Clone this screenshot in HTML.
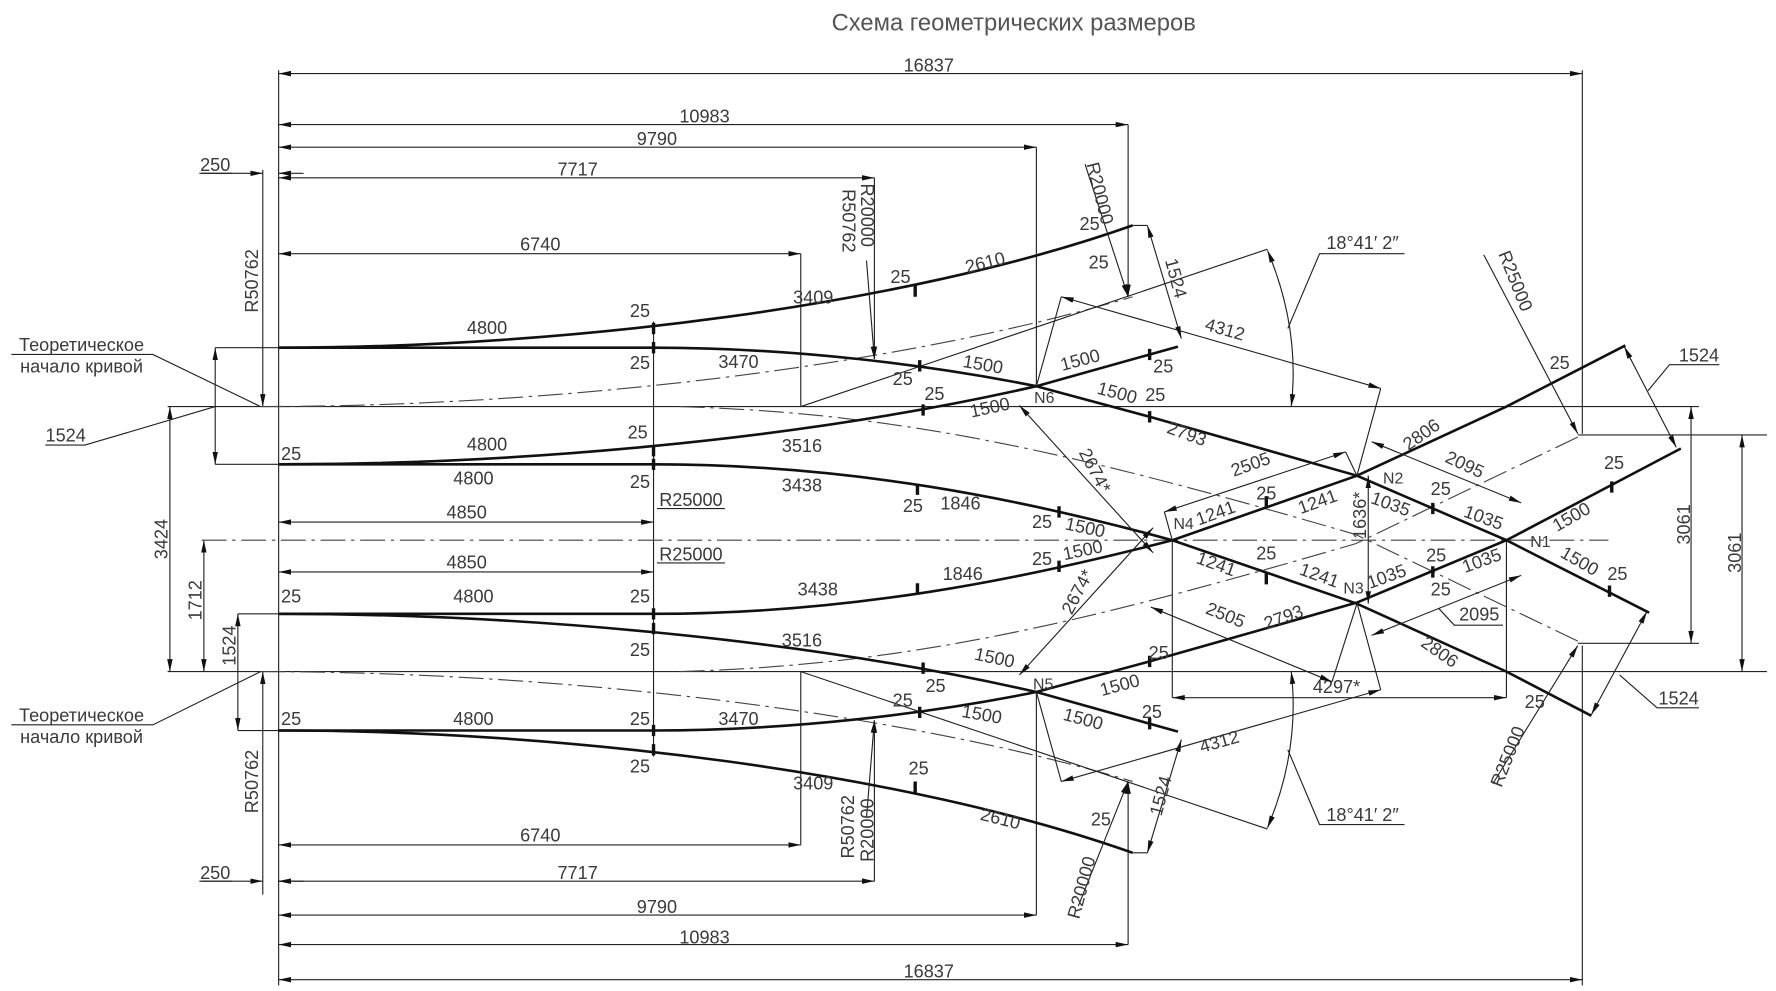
<!DOCTYPE html>
<html><head><meta charset="utf-8"><style>
html,body{margin:0;padding:0;background:#fff;width:1776px;height:991px;overflow:hidden}
svg{display:block}
text{font-family:"Liberation Sans Narrow","Liberation Sans",sans-serif;font-size:16px;fill:#3a3a3a;text-anchor:middle}
.t{stroke:#222;stroke-width:1;fill:none}
.k{stroke:#111;stroke-width:2.3;fill:none}
.dd{stroke:#444;stroke-width:1;fill:none;stroke-dasharray:22 5 3 5}
.d{stroke:#222;stroke-width:1;fill:none;marker-start:url(#a);marker-end:url(#a)}
.e{stroke:#222;stroke-width:1;fill:none;marker-end:url(#a)}
.tk{stroke:#111;stroke-width:3}
</style></head><body>
<svg width="1776" height="991" viewBox="0 0 1568 875" preserveAspectRatio="none" xmlns="http://www.w3.org/2000/svg">
<defs><marker id="a" markerUnits="userSpaceOnUse" markerWidth="12" markerHeight="6" refX="11" refY="3" orient="auto-start-reverse"><path d="M0,0.6 L11,3 L0,5.4 Z" fill="#111"/></marker></defs>

<text x="895" y="27" style="font-size:21px;fill:#555">Схема геометрических размеров</text>

<!-- extension lines -->
<path class="t" d="M246,62V870 M707,224V359 M707,593V746 M915,130V341 M915,612V808 M1397,62V383 M1397,570V870 M577,284V668 M1035,477V616 M1330,477V616
M148,359H1500 M148,593H1560 M1393,384H1560 M1393,568H1500 M190,307H246 M190,410H246 M210,542H246 M210,645H246"/>
<path class="e" d="M772,157V317"/><path class="e" d="M772,778V636"/><path class="e" d="M996,110V262"/><path class="e" d="M996,834V690"/>
<path class="dd" d="M178,477H1420"/>

<!-- horizontal dims -->
<path class="d" d="M246,65H1397"/><path class="d" d="M246,110H996"/><path class="d" d="M246,130H915"/><path class="d" d="M246,157H772"/>
<path class="d" d="M246,224H707"/><path class="d" d="M246,461H577"/><path class="d" d="M246,505H577"/>
<path class="d" d="M246,746H707"/><path class="d" d="M246,778H772"/><path class="d" d="M246,808H915"/><path class="d" d="M246,834H996"/><path class="d" d="M246,865H1397"/>
<text x="820" y="63">16837</text><text x="622" y="108">10983</text><text x="580" y="128">9790</text>
<text x="510" y="155">7717</text><text x="477" y="221">6740</text><text x="412" y="458">4850</text><text x="412" y="502">4850</text>
<text x="477" y="743">6740</text><text x="510" y="776">7717</text><text x="580" y="806">9790</text><text x="622" y="833">10983</text><text x="820" y="863">16837</text>

<!-- vertical dims -->
<path class="d" d="M150,359V593"/><path class="d" d="M180,477V593"/><path class="d" d="M190,307V410"/><path class="d" d="M210,542V645"/>
<path class="d" d="M1493,359V568"/><path class="d" d="M1538,384V593"/><path class="d" d="M1208,420V533"/><path class="d" d="M1035,616H1330"/>
<text transform="translate(148,476) rotate(-90)">3424</text>
<text transform="translate(178,530) rotate(-90)">1712</text>
<text transform="translate(208,570) rotate(-90)">1524</text>
<text transform="translate(1492,463) rotate(-90)">3061</text>
<text transform="translate(1537,488) rotate(-90)">3061</text>
<text transform="translate(1206,455) rotate(-90)">1636*</text>
<text x="1180" y="612">4297*</text>

<!-- left items -->
<path class="e" d="M232,150V359"/><path class="e" d="M232,790V593"/><path class="e" d="M178,153H232"/><path class="e" d="M268,153H246"/><path class="e" d="M178,778H232"/><path class="e" d="M268,778H246"/>
<text transform="translate(228,248) rotate(-90)">R50762</text>
<text transform="translate(228,690) rotate(-90)">R50762</text>
<text x="190" y="151">250</text><text x="190" y="776">250</text>
<path class="t" d="M176,153H205 M176,778H205 M40,393H75L190,359 M10,313H135L230,359 M10,640H135L230,593"/>
<text x="58" y="390">1524</text>
<text x="72" y="310">Теоретическое</text><text x="72" y="329">начало кривой</text>
<text x="72" y="637">Теоретическое</text><text x="72" y="656">начало кривой</text>

<!-- dash-dot -->
<path class="dd" d="M230,359C500,359 800,322 1000,262 M230,593C500,593 800,630 1000,690
M600,359C800,365 950,400 1197,472L1397,568 M600,593C800,587 950,552 1197,480L1397,384"/>
<path class="t" d="M707,359L1119,220 M707,593L1119,732"/>

<!-- tracks -->
<path class="k" d="M246,307C500,307 800,270 1000,199"/>
<path class="k" d="M246,307L577,307C700,307 820,322 915,341L1015,368L1198,420L1330,477L1456,541"/>
<path class="k" d="M246,410C450,410 700,390 915,341L1040,306"/>
<path class="k" d="M246,410L577,410C750,410 900,440 1035,477L1198,533L1330,593L1405,632"/>
<path class="k" d="M246,645C500,645 800,682 1000,753"/>
<path class="k" d="M246,645L577,645C700,645 820,630 915,611L1015,584L1198,532L1330,477L1484,396"/>
<path class="k" d="M246,542C450,542 700,562 915,611L1040,646"/>
<path class="k" d="M246,542L577,542C750,542 900,512 1035,477L1198,420L1330,359L1435,305"/>

<!-- ticks -->
<path class="tk" d="M577,285v10 M577,302v10 M577,393v10 M577,405v10 M577,537v10 M577,550v10 M577,640v10 M577,657v10
M808,252v10 M812,318v10 M815,357v10 M810,427v10 M935,447v10 M1015,308v10 M1015,363v10 M1118,438v10 M1118,506v10 M1265,444v10 M1265,500v10 M1421,517v10 M1423,425v10
M808,690v10 M812,624v10 M815,585v10 M810,515v10 M935,495v10 M1015,634v10 M1015,579v10"/>

<!-- diagonal dims -->
<path class="d" d="M1028,452L1188,399"/><path class="d" d="M1016,536L1176,602"/><path class="d" d="M900,358L1018,488"/><path class="d" d="M1018,466L900,596"/>
<path class="d" d="M1211,390L1343,444"/><path class="d" d="M1211,561L1343,508"/><path class="d" d="M1434,306L1480,395"/><path class="d" d="M1454,540L1405,631"/>
<path class="d" d="M1013,199L1043,299"/><path class="d" d="M1013,753L1043,653"/><path class="d" d="M937,262L1219,343"/><path class="d" d="M937,690L1219,609"/>
<path class="d" d="M1119,221Q1148,290 1140,359"/><path class="d" d="M1119,731Q1148,662 1140,593"/>
<path class="t" d="M937,262L915,341 M1219,343L1198,420 M937,690L915,611 M1219,609L1198,532 M1188,399L1198,420 M1028,452L1035,477 M1176,602L1198,533 M1000,199L1013,199 M1000,753L1013,753
M1137,290L1165,224H1240 M1137,662L1165,728H1240 M1455,345L1474,322H1518 M1430,596L1463,625H1500 M1270,537L1284,552H1327"/>
<path class="e" d="M958,145L996,262"/><path class="e" d="M765,230L772,317"/><path class="e" d="M765,722L772,636"/><path class="e" d="M952,800L996,690"/>
<path class="e" d="M1310,225L1393,383"/><path class="e" d="M1318,692L1393,570"/>
<text transform="translate(1106,415) rotate(-20)">2505</text>
<text transform="translate(1080,548) rotate(22)">2505</text>
<text transform="translate(962,418) rotate(62)">2674*</text>
<text transform="translate(956,525) rotate(-62)">2674*</text>
<text transform="translate(1291,415) rotate(25)">2095</text>
<text x="1306" y="548">2095</text>
<text x="1500" y="319">1524</text><text x="1482" y="622">1524</text>
<text transform="translate(1033,247) rotate(75)">1524</text>
<text transform="translate(1030,704) rotate(-75)">1524</text>
<text transform="translate(1080,296) rotate(16)">4312</text>
<text transform="translate(1078,660) rotate(-16)">4312</text>
<text x="1203" y="220">18°41′ 2″</text><text x="1203" y="725">18°41′ 2″</text>
<text transform="translate(966,172) rotate(76)">R20000</text>
<text transform="translate(760,190) rotate(90)">R20000</text>
<text transform="translate(744,195) rotate(90)">R50762</text>
<text transform="translate(754,730) rotate(-90)">R50762</text>
<text transform="translate(771,733) rotate(-90)">R20000</text>
<text transform="translate(960,785) rotate(-75)">R20000</text>
<text transform="translate(1333,250) rotate(68)">R25000</text>
<text transform="translate(1336,670) rotate(-68)">R25000</text>
<text x="610" y="447">R25000</text><text x="610" y="495">R25000</text>
<path class="t" d="M580,449H640 M580,497H640"/>

<!-- track labels -->
<text x="430" y="295">4800</text><text x="565" y="280">25</text><text transform="translate(871,237) rotate(-14)">2610</text><text x="795" y="250">25</text><text x="718" y="268">3409</text><text x="962" y="203">25</text><text x="970" y="237">25</text>
<text x="565" y="326">25</text><text x="652" y="325">3470</text><text transform="translate(867,327) rotate(10)">1500</text><text x="797" y="340">25</text><text transform="translate(955,323) rotate(-15)">1500</text><text x="1027" y="329">25</text>
<text transform="translate(985,352) rotate(15)">1500</text><text x="1020" y="354">25</text><text transform="translate(1046,388) rotate(20)">2793</text>
<text x="825" y="353">25</text><text transform="translate(875,365) rotate(-12)">1500</text><text x="563" y="387">25</text><text x="430" y="398">4800</text><text x="257" y="406">25</text><text x="708" y="399">3516</text>
<text x="418" y="428">4800</text><text x="565" y="431">25</text><text x="708" y="434">3438</text><text x="806" y="452">25</text><text x="848" y="450">1846</text><text x="920" y="466">25</text><text transform="translate(957,471) rotate(12)">1500</text>
<text x="922" y="356" style="font-size:14px">N6</text><text x="1230" y="427" style="font-size:14px">N2</text><text x="1045" y="467" style="font-size:14px">N4</text><text x="1360" y="483" style="font-size:14px">N1</text><text x="1195" y="524" style="font-size:14px">N3</text><text x="921" y="609" style="font-size:14px">N5</text>
<text transform="translate(1075,458) rotate(-20)">1241</text><text x="1118" y="441">25</text><text transform="translate(1165,448) rotate(-20)">1241</text><text transform="translate(1226,450) rotate(20)">1035</text><text x="1272" y="437">25</text><text transform="translate(1308,462) rotate(20)">1035</text><text transform="translate(1390,461) rotate(-30)">1500</text><text x="1425" y="414">25</text>
<text transform="translate(1072,503) rotate(20)">1241</text><text x="1118" y="494">25</text><text transform="translate(1163,513) rotate(20)">1241</text><text transform="translate(1226,514) rotate(-20)">1035</text><text x="1268" y="496">25</text><text transform="translate(1310,500) rotate(-20)">1035</text><text x="1272" y="526">25</text><text transform="translate(1392,500) rotate(30)">1500</text><text x="1428" y="512">25</text>
<text transform="translate(1135,550) rotate(-20)">2793</text><text transform="translate(1258,388) rotate(-35)">2806</text><text transform="translate(1268,580) rotate(35)">2806</text><text x="1355" y="625">25</text><text x="1377" y="326">25</text>
<text x="1023" y="582">25</text><text transform="translate(990,610) rotate(-15)">1500</text><text transform="translate(955,640) rotate(15)">1500</text><text x="1017" y="634">25</text><text transform="translate(877,586) rotate(12)">1500</text><text x="826" y="611">25</text>
<text x="708" y="571">3516</text><text x="565" y="579">25</text><text x="418" y="532">4800</text><text x="257" y="532">25</text><text x="565" y="532">25</text><text x="722" y="526">3438</text><text x="850" y="512">1846</text><text x="920" y="499">25</text><text transform="translate(957,491) rotate(-12)">1500</text>
<text x="257" y="640">25</text><text x="418" y="640">4800</text><text x="565" y="640">25</text><text x="652" y="640">3470</text><text x="797" y="624">25</text><text transform="translate(866,636) rotate(10)">1500</text><text x="565" y="682">25</text><text x="718" y="697">3409</text><text x="811" y="684">25</text><text transform="translate(882,728) rotate(14)">2610</text><text x="972" y="729">25</text>
</svg>
</body></html>
